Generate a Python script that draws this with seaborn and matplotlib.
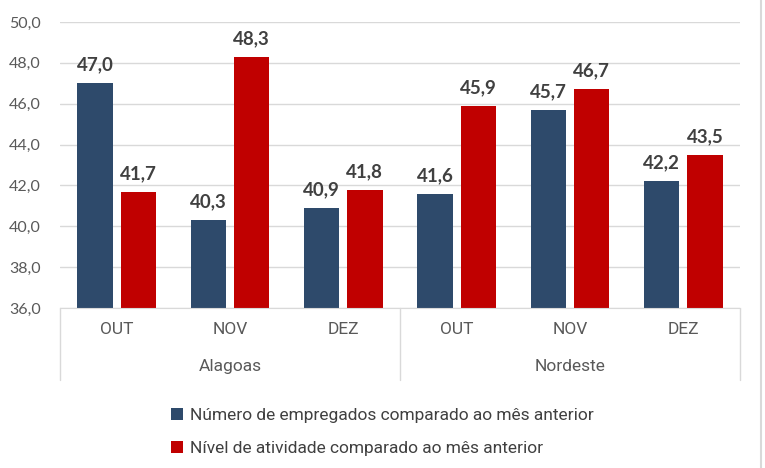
import matplotlib
matplotlib.use("Agg")

import pandas as pd
import matplotlib.pyplot as plt
import matplotlib.transforms as mtransforms
from matplotlib.lines import Line2D
import seaborn as sns

# ─────────────────────────────────────────────────────────────
# DATA
# ─────────────────────────────────────────────────────────────
regions  = ["Alagoas", "Nordeste"]
months   = ["OUT", "NOV", "DEZ"]
series   = ["Número de empregados comparado ao mês anterior",
            "Nível de atividade comparado ao mês anterior"]
empregados = [47.0, 40.3, 40.9, 41.6, 45.7, 42.2]
atividade  = [41.7, 48.3, 41.8, 45.9, 46.7, 43.5]
yticks     = [36, 38, 40, 42, 44, 46, 48, 50]

BLUE = "#2E4A6B"
RED  = "#C00000"
TXT  = "#595959"
GRID = "#D9D9D9"

cats = [f"{r}|{m}" for r in regions for m in months]
df = pd.DataFrame({
    "cat":   cats * 2,
    "serie": [series[0]] * 6 + [series[1]] * 6,
    "valor": empregados + atividade,
})

sns.set_style("white")
plt.rcParams["font.family"] = ["Lato", "DejaVu Sans"]
narrow = ["Liberation Sans Narrow", "Roboto", "DejaVu Sans"]

fig = plt.figure(figsize=(7.65, 4.68), dpi=100)
ax = fig.add_axes([60 / 765, 1 - 308 / 468, 680 / 765, 286 / 468])

sns.barplot(data=df, x="cat", y="valor", hue="serie", order=cats,
            hue_order=series, palette=[BLUE, RED], width=0.76, gap=0.18,
            saturation=1, linewidth=0, ax=ax, legend=True)

ax.set_ylim(36, 50)
ax.set_xlim(-0.5, 5.5)
ax.set_yticks(yticks)
ax.set_yticklabels([f"{v:.1f}".replace(".", ",") for v in yticks],
                   color=TXT, fontsize=11.5)
ax.yaxis.grid(True, color=GRID, lw=1)
ax.set_axisbelow(True)
ax.set_xlabel("")
ax.set_ylabel("")
ax.tick_params(axis="both", length=0)
ax.tick_params(axis="y", pad=14)
ax.set_xticks([])
for s in ["left", "right", "top"]:
    ax.spines[s].set_visible(False)
ax.spines["bottom"].set_color(GRID)

# data labels
for cont in ax.containers:
    vals = [b.get_height() for b in cont]
    ax.bar_label(cont, labels=[f"{v:.1f}".replace(".", ",") for v in vals],
                 padding=7, fontsize=13.5, fontweight="bold", color="#404040")

# multi-level category axis
trans = mtransforms.blended_transform_factory(ax.transData, ax.transAxes)
for i, c in enumerate(cats):
    ax.text(i, -0.075, c.split("|")[1], transform=trans, ha="center",
            va="center", fontsize=12.5, color=TXT, family=narrow)
for j, r in enumerate(regions):
    ax.text(j * 3 + 1, -0.205, r, transform=trans, ha="center",
            va="center", fontsize=12.5, color=TXT, family=narrow)
for xv in [-0.5, 2.5, 5.5]:
    ax.plot([xv, xv], [0, -0.252], transform=trans, color=GRID, lw=1,
            clip_on=False)

# legend
handles, labels = ax.get_legend_handles_labels()
ax.get_legend().remove()
fig.legend(handles, labels, loc="upper center",
           bbox_to_anchor=(0.5, 1 - 392 / 468), ncol=1, frameon=False,
           handlelength=0.7, handleheight=0.7, handletextpad=0.4,
           labelspacing=1.05, prop={"family": narrow, "size": 12.5},
           labelcolor="#404040")

# chart border on the right
fig.add_artist(Line2D([761 / 765, 761 / 765], [0, 1], color=GRID, lw=1.5,
                      transform=fig.transFigure))

fig.savefig("out.png", dpi=100, facecolor="white")
